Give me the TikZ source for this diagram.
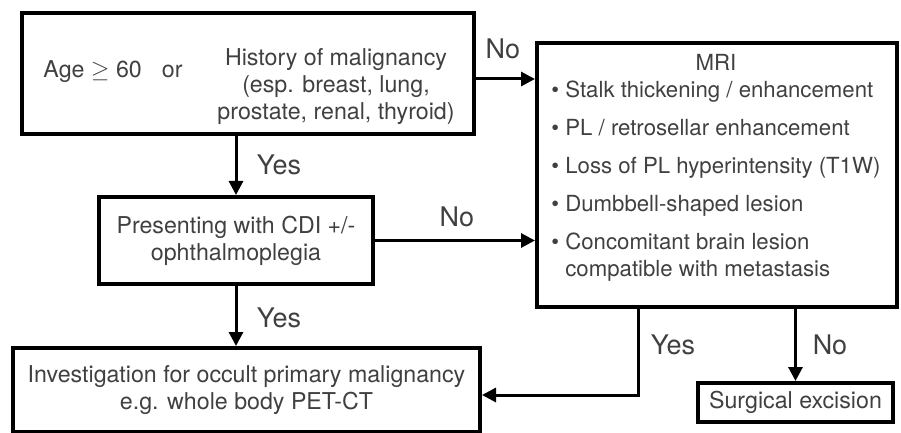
\documentclass[tikz,border=0pt]{standalone}
\usepackage{fontspec}
\setmainfont{TeX Gyre Heros}
\usetikzlibrary{calc}
\usetikzlibrary{arrows.meta}

\tikzset{
  box/.style={draw=black, line width=2pt, inner sep=0pt},
  txt/.style={text=black!75, font=\fontsize{11.6}{13.5}\selectfont, align=center, inner sep=0pt},
  lbl/.style={txt, font=\fontsize{13.5}{15}\selectfont},
  arr/.style={line width=1.5pt, -{Triangle[length=7pt,width=7pt]}}
}

\begin{document}
\begin{tikzpicture}[x=0.5pt, y=-0.5pt]
  % Boundary
  \path[use as bounding box] (0,0) rectangle (901,433);
  % Boxes
  \node[box, minimum width=226pt, minimum height=60.5pt] (risk) at (248,73.5) {};
  \node[txt] (age) at (113,72) {Age $\geq$ 60\hspace{10pt}or};
  \node[txt] (hist) at (336,87) {History of malignancy\\(esp. breast, lung,\\prostate, renal, thyroid)};
  \node[box, txt, minimum width=137pt, minimum height=43.5pt] (pres) at (236,240.5) {Presenting with CDI +/-\\ophthalmoplegia};
  \node[box, txt, minimum width=233.5pt, minimum height=42pt] (invest) at (246.5,390) {Investigation for occult primary malignancy\\e.g. whole body PET-CT};
  \node[box, txt, minimum width=97.5pt, minimum height=19.5pt] (surg) at (795.5,402.5) {Surgical excision};
  % MRI findings
  \node[box, minimum width=180pt, minimum height=132pt] (mri) at (717,175) {};
  \node[txt, font=\fontsize{11.1}{13.5}\selectfont, anchor=north west] (mrilist) at (551,51.5) {%
    \begin{tabular}{@{}l@{}}
      \multicolumn{1}{@{}c@{}}{MRI}\\
      \textbullet\ Stalk thickening / enhancement\\[5.5pt]
      \textbullet\ PL / retrosellar enhancement\\[5.5pt]
      \textbullet\ Loss of PL hyperintensity (T1W)\\[5.5pt]
      \textbullet\ Dumbbell-shaped lesion\\[5.5pt]
      \textbullet\ Concomitant brain lesion\\
      \hphantom{\textbullet\ }compatible with metastasis
    \end{tabular}};
  % Connectors
  \coordinate (yesbend) at (638,395);
  \draw[arr] ([yshift=-2.75pt]risk.east) -- ([yshift=-2.75pt]risk.east -| mri.west);
  \draw[arr] (pres.north |- risk.south) -- (pres.north);
  \draw[arr] (pres.east) -- (pres.east -| mri.west);
  \draw[arr] (pres.south) -- (pres.south |- invest.north);
  \draw[arr] (mri.south -| yesbend) -- (yesbend) -- (yesbend -| invest.east);
  \draw[arr] (mri.south -| surg.north) -- (surg.north);
  % Labels
  \node[lbl] (no1) at (503,49) {No};
  \node[lbl] (yes1) at (279,165) {Yes};
  \node[lbl] (no2) at (457,217) {No};
  \node[lbl] (yes2) at (279,318) {Yes};
  \node[lbl] (yes3) at (673,345) {Yes};
  \node[lbl] (no3) at (830,345) {No};
\end{tikzpicture}
\end{document}
